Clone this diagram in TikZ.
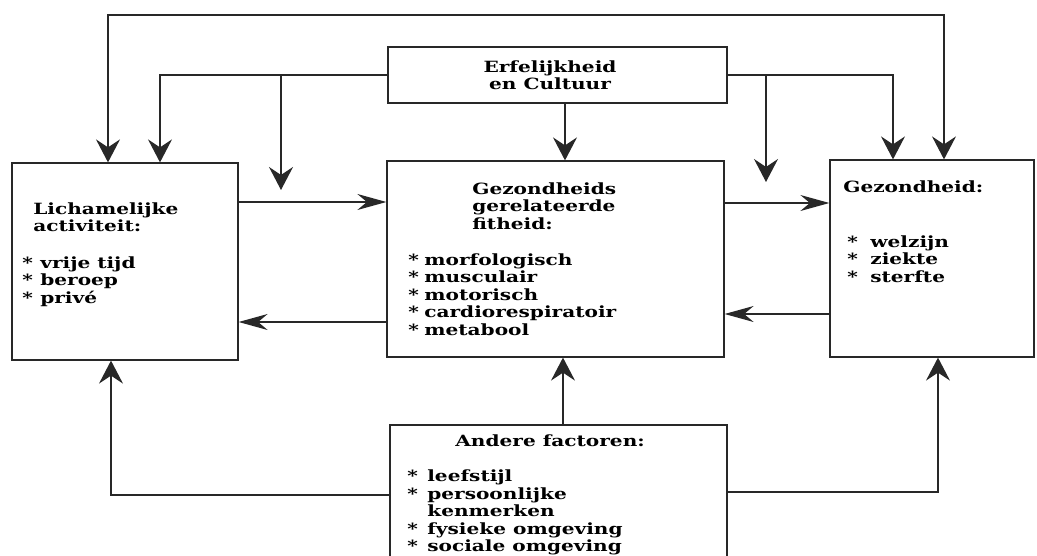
\documentclass[tikz,border=0pt]{standalone}
\usepackage{fontspec}
\newfontfamily\kopfont{DejaVu Serif}[FakeStretch=1.3]
\usetikzlibrary{arrows.meta,positioning}
\definecolor{inkt}{RGB}{40,40,40}
\newcommand\ster[1][0.32cm]{\makebox[#1][l]{*}}

\begin{document}
\begin{tikzpicture}[
  >={Stealth[length=4.6mm,width=4.8mm,inset=1.6mm]},
  blok/.style={rectangle,draw=inkt,line width=0.7pt,inner sep=0pt},
  kop/.style={anchor=north west,inner sep=0pt,align=left,text=black,
              font=\kopfont\bfseries\fontsize{8.8}{10}\selectfont},
  lijn/.style={draw=inkt,line width=0.7pt},
  pijlv/.style={lijn,->},
  pijlh/.style={lijn,-{Stealth[length=5.8mm,width=3.2mm,inset=1.9mm]}}
]
\clip (0,0) rectangle (20.74,11.1);
%% Blokken
\node[blok,minimum width=6.78cm,minimum height=1.12cm] (erf)    at (11.15,9.6)  {};
\node[blok,minimum width=4.52cm,minimum height=3.94cm] (lich)   at (2.5,5.87)   {};
\node[blok,minimum width=6.74cm,minimum height=3.92cm] (fit)    at (11.11,5.92) {};
\node[blok,minimum width=4.08cm,minimum height=3.94cm] (gez)    at (18.64,5.93) {};
\node[blok,minimum width=6.74cm,minimum height=2.8cm]  (andere) at (11.17,1.2)  {};
%% Teksten
\node[kop,anchor=north,align=center] (erfTekst) at (11.0,9.9) {Erfelijkheid\\en Cultuur};
\node[kop] (lichKop)   at (0.66,7.06) {Lichamelijke\\activiteit:};
\node[kop] (lichLijst) at (0.44,5.98) {\ster[0.36cm]vrije tijd\\\ster[0.36cm]beroep\\\ster[0.36cm]privé};
\node[kop] (fitKop)    at (9.44,7.46) {Gezondheids\\gerelateerde\\fitheid:};
\node[kop] (fitLijst)  at (8.16,6.04) {\ster morfologisch\\\ster musculair\\\ster motorisch\\\ster cardiorespiratoir\\\ster metabool};
\node[kop] (gezKop)    at (16.86,7.5) {Gezondheid:};
\node[kop] (gezLijst)  at (16.94,6.4) {\ster[0.46cm]welzijn\\\ster[0.46cm]ziekte\\\ster[0.46cm]sterfte};
\node[kop] (andereKop) at (9.1,2.41) {Andere factoren:};
\node[kop] (andereLijst) at (8.14,1.71) {\ster[0.4cm]leefstijl\\\ster[0.4cm]persoonlijke\\\hspace*{0.4cm}kenmerken\\\ster[0.4cm]fysieke omgeving\\\ster[0.4cm]sociale omgeving};
%% Pijlen boven
\coordinate (boven) at (10,10.8);
\draw[lijn,<->] ([xshift=-3.4mm]lich.north) |- (boven) -| ([xshift=2.4mm]gez.north);
\draw[pijlv] (erf.west) -| ([xshift=7mm]lich.north);
\draw[pijlv] (erf.east) -| ([xshift=-7.8mm]gez.north);
\coordinate (modL) at (5.62,7.3);
\coordinate (modR) at (15.32,7.46);
\draw[pijlv] (modL |- erf.west) -- (modL);
\draw[pijlv] (modR |- erf.east) -- (modR);
\path ([xshift=1.5mm]erf.south) coordinate (erfO);
\draw[pijlv] (erfO) -- (erfO |- fit.north);
%% Pijlen tussen de blokken
\path ([yshift=11.9mm]lich.east) coordinate (lfA);
\draw[pijlh] (lfA) -- (lfA -| fit.west);
\path ([yshift=-12.6mm]fit.west) coordinate (flA);
\draw[pijlh] (flA) -- (flA -| lich.east);
\path ([yshift=11.2mm]fit.east) coordinate (fgA);
\draw[pijlh] (fgA) -- (fgA -| gez.west);
\path ([yshift=-11.1mm]gez.west) coordinate (gfA);
\draw[pijlh] (gfA) -- (gfA -| fit.east);
%% Pijlen onder
\draw[pijlv] (andere.west) -| ([xshift=-2.8mm]lich.south);
\path ([xshift=0.9mm]andere.north) coordinate (andO);
\draw[pijlv] (andO) -- (andO |- fit.south);
\draw[pijlv] ([yshift=0.6mm]andere.east) -| ([xshift=1.2mm]gez.south);
\end{tikzpicture}
\end{document}
